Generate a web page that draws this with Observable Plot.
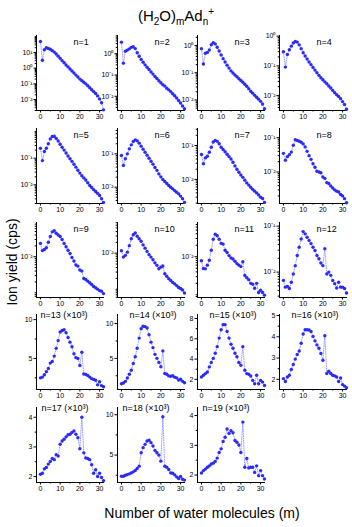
<!DOCTYPE html>
<html><head><meta charset="utf-8">
<script src="https://cdn.jsdelivr.net/npm/d3@7"></script>
<script src="https://cdn.jsdelivr.net/npm/@observablehq/plot@0.6"></script>
<style>
body{margin:0;background:#fff;font-family:"Liberation Sans",Arial,sans-serif;}
#wrap{position:relative;width:352px;height:527px;overflow:hidden;background:#fff;}
#title{position:absolute;left:0;top:2px;width:352px;text-align:center;font-size:15px;line-height:20px;color:#000;}
#title sub,#title sup{font-size:10px;}
#ytitle{position:absolute;left:-88px;top:252px;width:200px;height:20px;line-height:20px;text-align:center;font-size:14px;transform:rotate(-90deg);}
#xtitle{position:absolute;left:82px;top:504px;width:240px;text-align:center;font-size:14px;line-height:18px;}
</style>
</head><body>
<div id="wrap">
<div id="title">(H<sub>2</sub>O)<sub>m</sub>Ad<sub>n</sub><sup>+</sup></div>
<div id="ytitle">Ion yield (cps)</div>
<div id="xtitle">Number of water molecules (m)</div>
</div>
<script>
// number of water molecules m
const M = [0,1,2,3,4,5,6,7,8,9,10,11,12,13,14,15,16,17,18,19,20,21,22,23,24,25,26,27,28,29,30,31,32];
const xTicks = [0, 10, 20, 30];
const xMinor = [5, 15, 25];

// ion yields per cluster size n (log panels n=1..12, ×10^3 linear panels n=13..19)
const n1  = [50,3.2,15,20,18,16,13,10.5,7.9,5.8,4.2,3.0,2.2,1.6,1.2,0.89,0.66,0.49,0.36,0.27,0.20,0.16,0.126,0.10,0.076,0.056,0.042,0.032,0.024,0.017,0.011,0.0063,0.0022];
const n2  = [3.5,0.36,1.32,1.48,1.70,2.0,2.14,1.74,1.12,0.76,0.54,0.40,0.30,0.23,0.18,0.14,0.11,0.085,0.068,0.054,0.043,0.035,0.030,0.024,0.020,0.0166,0.0132,0.0105,0.0083,0.0063,0.0048,0.0035,0.0026];
const n3  = [0.76,0.21,0.52,0.56,0.69,1.07,1.26,1.15,0.87,0.63,0.45,0.33,0.25,0.19,0.148,0.117,0.098,0.083,0.071,0.060,0.052,0.045,0.038,0.032,0.026,0.021,0.0178,0.0148,0.0126,0.0107,0.0089,0.0071,0.0048];
const n4  = [0.30,0.091,0.24,0.35,0.46,0.59,0.66,0.63,0.51,0.38,0.275,0.214,0.17,0.135,0.11,0.089,0.072,0.059,0.048,0.040,0.034,0.029,0.025,0.021,0.018,0.015,0.0126,0.0107,0.0093,0.0079,0.0063,0.0050,0.0035];
const n5  = [0.234,0.081,0.178,0.234,0.347,0.525,0.646,0.661,0.55,0.437,0.331,0.257,0.20,0.155,0.12,0.095,0.076,0.059,0.046,0.035,0.0275,0.0219,0.0182,0.0151,0.012,0.0095,0.0079,0.0066,0.0056,0.0048,0.0040,0.0030,0.0022];
const n6  = [0.089,0.045,0.071,0.10,0.141,0.186,0.234,0.263,0.245,0.209,0.17,0.138,0.112,0.091,0.074,0.060,0.049,0.039,0.032,0.025,0.0204,0.017,0.0148,0.0129,0.0112,0.010,0.0089,0.0079,0.0071,0.0063,0.0054,0.0045,0.0035];
const n7  = [0.054,0.029,0.043,0.048,0.063,0.089,0.126,0.141,0.132,0.112,0.089,0.076,0.065,0.055,0.047,0.040,0.032,0.025,0.020,0.0162,0.0135,0.0115,0.0095,0.0079,0.0068,0.0059,0.0051,0.0045,0.0040,0.0035,0.0030,0.00275,0.0021];
const n8  = [0.035,0.022,0.028,0.032,0.038,0.060,0.087,0.083,0.079,0.074,0.066,0.054,0.040,0.030,0.0234,0.0174,0.0138,0.0105,0.0100,0.0095,0.0071,0.0065,0.0049,0.0046,0.0039,0.0034,0.0030,0.00275,0.0026,0.0022,0.0020,0.00166,0.00126];
const n9  = [0.0234,0.0148,0.0158,0.0178,0.0251,0.0363,0.049,0.0525,0.0447,0.040,0.0363,0.030,0.0234,0.019,0.0151,0.0123,0.0095,0.0076,0.0059,0.0055,0.0043,0.0040,0.0025,0.00234,0.0021,0.0019,0.0017,0.0015,0.00138,0.00126,0.00115,0.0011,0.00095];
const n10 = [0.0117,0.0078,0.0087,0.0107,0.0162,0.0251,0.0324,0.0363,0.0295,0.0251,0.0214,0.017,0.0138,0.0112,0.0091,0.0078,0.0066,0.0054,0.0046,0.0037,0.0041,0.0044,0.0027,0.0023,0.00195,0.00174,0.00155,0.00141,0.00126,0.00112,0.00105,0.00095,0.00079];
const n11 = [0.0078,0.0049,0.0048,0.0060,0.0081,0.0148,0.0288,0.0389,0.0355,0.0288,0.0224,0.0214,0.0148,0.0129,0.0107,0.0093,0.0087,0.0076,0.0066,0.0060,0.0055,0.0074,0.0032,0.0028,0.0025,0.0020,0.0019,0.00148,0.0020,0.00115,0.00132,0.00115,0.00098];
const n12 = [0.0066,0.0047,0.0049,0.0044,0.0060,0.0091,0.0138,0.0229,0.0347,0.0525,0.076,0.068,0.0575,0.049,0.0417,0.0347,0.0295,0.0229,0.0195,0.0158,0.0138,0.0324,0.0091,0.0100,0.0085,0.0066,0.0056,0.0045,0.0060,0.0047,0.0047,0.0044,0.0035];
const n13 = [2.5,2.6,2.9,3.3,3.7,4.4,4.6,5.3,6.3,7.3,8.4,8.6,8.7,8.3,7.7,7.1,6.5,5.6,5.1,5.0,4.1,5.8,3.0,2.95,2.8,2.6,2.4,2.3,2.2,1.6,2.0,1.5,1.35];
const n14 = [1.36,1.46,1.70,2.18,2.72,3.30,4.27,5.24,6.46,7.91,9.27,9.61,9.56,9.37,8.40,7.33,6.55,5.58,5.0,4.42,3.79,6.07,2.82,2.72,2.48,2.43,2.5,2.3,2.2,1.9,2.0,1.7,1.5];
const n15 = [2.23,2.4,2.57,2.73,3.23,3.67,4.07,4.57,5.23,6.07,6.9,7.4,7.4,6.73,6.07,5.47,5.07,4.57,4.23,3.67,3.4,5.23,2.9,2.57,2.5,2.33,1.9,1.57,2.4,1.57,1.9,1.73,1.4];
const n16 = [2.03,1.9,2.11,2.19,2.46,2.7,2.95,3.17,3.33,3.70,4.13,4.33,4.33,4.32,4.25,4.02,3.81,3.62,3.46,3.22,2.9,4.05,2.27,2.38,2.27,2.19,2.16,2.11,1.9,2.06,1.75,1.68,1.6];
const n17 = [2.08,2.11,2.26,2.31,2.42,2.51,2.61,2.57,2.74,2.69,3.09,3.2,3.26,3.34,3.41,3.43,3.49,3.54,3.43,3.31,2.94,4.0,2.8,2.63,2.61,2.57,2.4,2.11,2.23,2.0,2.11,1.97,1.86];
const n18 = [2.38,2.38,2.5,2.58,2.67,2.79,2.92,3.08,3.33,3.63,5.29,5.92,6.33,6.75,6.83,6.54,6.13,5.58,5.29,5.0,4.25,9.75,3.63,3.5,3.21,2.79,2.75,2.55,2.3,2.1,2.35,2.0,1.9];
const n19 = [2.07,2.15,2.2,2.26,2.31,2.37,2.40,2.46,2.57,2.76,2.88,3.13,3.27,3.55,3.40,3.49,3.42,3.16,3.1,3.01,2.76,3.78,2.26,2.56,2.24,2.26,2.26,2.09,2.31,1.98,2.15,1.98,1.87];

// y-axis ranges and tick labels
const yDomains = [
  [0.0020,120],[0.00214,7.2],[0.0041,2.34],[0.00316,1.05],
  [0.0020,1.29],[0.00324,0.575],[0.00195,0.316],[0.0012,0.186],
  [0.00074,0.089],[0.00059,0.071],[0.00085,0.079],[0.0028,0.12],
  [1.0,10.66],[0.53,11.3],[1.0,8.4],[1.52,5.05],
  [1.8,4.33],[1.6,10.9],[1.75,4.27]
];
const yTicks = [
  [10,1,0.1,0.01],[1,0.1,0.01],[1,0.1,0.01],[1,0.1,0.01],
  [0.1,0.01],[0.1,0.01],[0.1,0.01],[0.1,0.01],
  [0.01],[0.01],[0.01],[0.1,0.01],
  [5,10],[5,10],[2,4,6,8],[2,3,4,5],
  [2,3,4],[5,10],[2,3,4]
];
const yMinorLinear = {13:[2.5,7.5],14:[2.5,7.5],15:[3,5,7],16:[2.5,3.5,4.5],17:[2.5,3.5],18:[2.5,7.5],19:[2.5,3.5]};
const series = [n1,n2,n3,n4,n5,n6,n7,n8,n9,n10,n11,n12,n13,n14,n15,n16,n17,n18,n19];
const clusterN = [1,2,3,4,5,6,7,8,9,10,11,12,13,14,15,16,17,18,19];

// layout
const colX = [36, 117, 197, 279];
const rowTop = [35, 128, 222, 314, 407];
const ML = 28, MR = 6, MT = 6, MB = 16, IW = 68, IH = 75;
const xDomain = [-2, 32.5];
const labelDx = {13:4,14:12,15:12,16:12,17:5,18:5,19:5};

const supMap = {"0":"⁰","1":"¹","2":"²","3":"³","4":"⁴","5":"⁵","6":"⁶","7":"⁷","8":"⁸","9":"⁹","-":"⁻"};
const sup = s => String(s).split("").map(c => supMap[c] || c).join("");

const wrap = document.getElementById("wrap");
series.forEach((vals, i) => {
  const n = clusterN[i];
  const isLog = n <= 12;
  const dom = yDomains[i];
  const data = M.map((m, k) => ({m, v: vals[k]}));
  let minor;
  if (isLog) {
    minor = [];
    for (let e = Math.floor(Math.log10(dom[0])); e <= Math.ceil(Math.log10(dom[1])); e++) {
      for (let k = 1; k <= 9; k++) {
        const t = k * Math.pow(10, e);
        if (t >= dom[0] && t <= dom[1] && !yTicks[i].some(tt => Math.abs(tt - t) / t < 1e-6)) minor.push(t);
      }
    }
  } else {
    minor = yMinorLinear[n];
  }
  const fmt = isLog ? (d => "10" + sup(Math.round(Math.log10(d)))) : (d => String(d));
  const label = isLog ? `n=${n}` : `n=${n} (×10³)`;
  const chart = Plot.plot({
    width: ML + IW + MR,
    height: MT + IH + MB,
    marginLeft: ML, marginRight: MR, marginTop: MT, marginBottom: MB,
    style: {fontFamily: "'Liberation Sans', Arial, sans-serif", fontSize: "7px", background: "transparent", overflow: "visible", color: "#000"},
    x: {domain: xDomain},
    y: {type: isLog ? "log" : "linear", domain: dom},
    marks: [
      Plot.axisX({ticks: xTicks, tickSize: 2.5, tickPadding: 1.5, label: null}),
      Plot.axisX({ticks: xMinor, tickSize: 1.5, tickFormat: () => "", label: null}),
      Plot.axisY({ticks: yTicks[i], tickSize: 2.5, tickPadding: 1.5, tickFormat: fmt, label: null}),
      Plot.axisY({ticks: minor, tickSize: 1.3, tickFormat: () => "", label: null}),
      Plot.ruleX([xDomain[0]], {stroke: "#000", strokeWidth: 1}),
      Plot.ruleY([dom[0]], {stroke: "#000", strokeWidth: 1}),
      Plot.line(data, {x: "m", y: "v", stroke: "#8484ff", strokeWidth: 0.8, strokeDasharray: "1,1.4"}),
      Plot.dot(data, {x: "m", y: "v", r: 1.7, fill: "#2a2aff", stroke: "none"}),
      Plot.text([label], {frameAnchor: "top-left", dx: isLog ? 37 : labelDx[n], dy: isLog ? 3 : -3, fontSize: 9, textAnchor: "start", lineAnchor: "top", fill: "#000"})
    ]
  });
  chart.style.position = "absolute";
  chart.style.left = (colX[i % 4] - ML) + "px";
  chart.style.top = (rowTop[Math.floor(i / 4)] - MT) + "px";
  wrap.appendChild(chart);
});
</script>
</body></html>
